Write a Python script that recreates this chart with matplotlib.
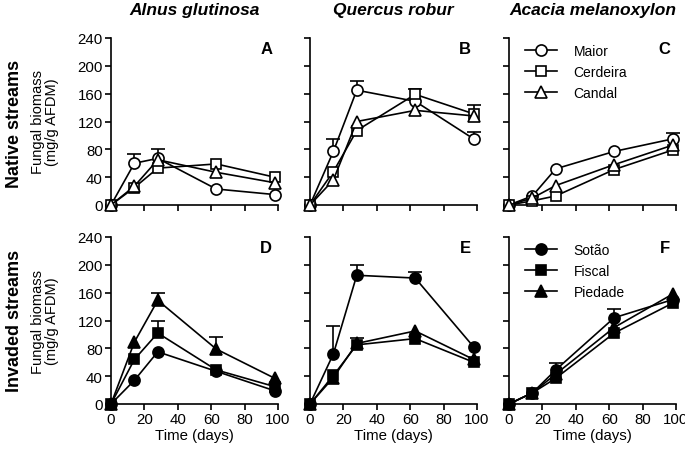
"""Fungal biomass on alder, oak and acacia litter in native vs invaded streams (6 panels)."""
import matplotlib
matplotlib.use("Agg")
import matplotlib.pyplot as plt
import numpy as np

plt.rcParams["font.family"] = ["Liberation Sans", "DejaVu Sans"]

days = [0, 14, 28, 63, 98]
species = ["Alnus glutinosa", "Quercus robur", "Acacia melanoxylon"]
rows = ["Native streams", "Invaded streams"]
native_streams = ["Maior", "Cerdeira", "Candal"]
invaded_streams = ["Sotão", "Fiscal", "Piedade"]
panel_letters = ["A", "B", "C", "D", "E", "F"]

# mean fungal biomass (mg/g AFDM), one row per stream
A_mean = [[0, 60, 67, 23, 15], [0, 25, 53, 59, 40], [0, 27, 65, 47, 32]]
B_mean = [[0, 77, 165, 149, 95], [0, 48, 107, 159, 131], [0, 36, 120, 136, 128]]
C_mean = [[0, 13, 52, 77, 95], [0, 6, 13, 51, 79], [0, 10, 28, 58, 86]]
D_mean = [[0, 34, 75, 47, 19], [0, 64, 102, 49, 25], [0, 89, 149, 79, 37]]
E_mean = [[0, 72, 185, 181, 82], [0, 41, 85, 94, 60], [0, 38, 87, 105, 64]]
F_mean = [[0, 16, 49, 124, 150], [0, 16, 37, 102, 145], [0, 16, 43, 110, 158]]

# upper SE bars (0 = not visible)
A_err = [[0, 14, 14, 0, 0], [0, 0, 0, 0, 0], [0, 0, 0, 0, 0]]
B_err = [[0, 18, 13, 0, 10], [0, 0, 0, 7, 13], [0, 0, 0, 0, 0]]
C_err = [[0, 0, 0, 0, 8], [0, 0, 0, 0, 0], [0, 0, 0, 0, 0]]
D_err = [[0, 0, 0, 0, 0], [0, 0, 17, 0, 0], [0, 0, 10, 18, 0]]
E_err = [[0, 40, 15, 9, 0], [0, 0, 10, 0, 0], [0, 0, 0, 0, 0]]
F_err = [[0, 0, 10, 13, 0], [0, 0, 0, 0, 0], [0, 0, 0, 0, 0]]

means = [A_mean, B_mean, C_mean, D_mean, E_mean, F_mean]
errs = [A_err, B_err, C_err, D_err, E_err, F_err]
markers = ["o", "s", "^"]
msizes = [8, 7.5, 8]

W, H = 685, 452
fig = plt.figure(figsize=(W / 100, H / 100), dpi=100)

lefts = [111, 310, 509]
tops = [39, 238]
aw, ah = 167, 167

for i in range(6):
    r, c = divmod(i, 3)
    ax = fig.add_axes([lefts[c] / W, 1 - (tops[r] + ah) / H, aw / W, ah / H])
    face = "white" if r == 0 else "black"
    names = native_streams if r == 0 else invaded_streams
    for k in range(3):
        y = np.array(means[i][k], dtype=float)
        e = np.array(errs[i][k], dtype=float)
        x = np.array(days)
        m = e > 0
        if m.any():
            eb = ax.errorbar(x[m], y[m], yerr=[np.zeros(m.sum()), e[m]], fmt="none",
                             ecolor="black", elinewidth=1.2, capsize=5, capthick=1.2,
                             zorder=1, clip_on=False)
            eb[1][0].set_visible(False)
        ax.plot(x, y, marker=markers[k], ms=msizes[k], mfc=face, mec="black", mew=1.2,
                color="black", lw=1.2, label=names[k], zorder=3 + k, clip_on=False)

    ax.set_xlim(0, 100)
    ax.set_ylim(0, 240)
    ax.set_xticks(range(0, 101, 20))
    ax.set_yticks(range(0, 241, 40))
    for s in ["top", "right"]:
        ax.spines[s].set_visible(False)
    for s in ["left", "bottom"]:
        ax.spines[s].set_linewidth(1.2)
    ax.tick_params(length=4, width=1.2, labelsize=10.8, pad=2)
    if r == 0:
        ax.tick_params(labelbottom=False)
    else:
        ax.set_xlabel("Time (days)", fontsize=10.8, labelpad=1)
    if c != 0:
        ax.tick_params(labelleft=False)
    else:
        ax.set_ylabel("Fungal biomass\n(mg/g AFDM)", fontsize=10.5, linespacing=1.0)
        ax.yaxis.set_label_coords(-0.31, 0.5)
    ax.text(0.965, 0.985, panel_letters[i], transform=ax.transAxes, ha="right",
            va="top", fontsize=12, fontweight="bold")
    if c == 2:
        ax.legend(loc="upper left", bbox_to_anchor=(0.02, 1.04), frameon=False,
                  fontsize=10, handlelength=2.3, labelspacing=0.5, handletextpad=1.2)
    if r == 0:
        fig.text((lefts[c] + aw / 2) / W, 1 - 11 / H, species[c], ha="center",
                 va="center", fontsize=12.5, fontweight="bold", fontstyle="italic")

fig.text(15 / W, 1 - 124 / H, rows[0], rotation=90, ha="center", va="center",
         fontsize=13, fontweight="bold")
fig.text(15 / W, 1 - 321 / H, rows[1], rotation=90, ha="center", va="center",
         fontsize=13, fontweight="bold")

fig.savefig("out.png", dpi=100)
